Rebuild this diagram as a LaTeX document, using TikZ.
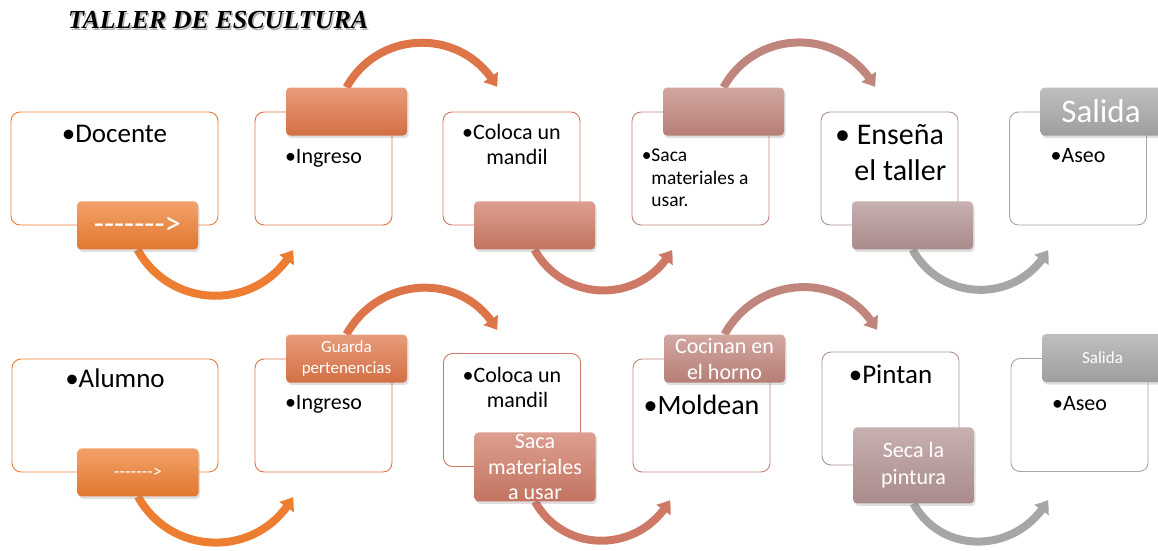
\documentclass[tikz,border=0pt]{standalone}
\usepackage{fontspec}
\setmainfont{Carlito}
\newfontfamily\titlefont{Liberation Serif}
\usepackage{xcolor}
\definecolor{naranja}{RGB}{237,125,49}
\definecolor{cobre}{RGB}{222,117,72}
\definecolor{teja}{RGB}{206,121,101}
\definecolor{rosado}{RGB}{192,133,124}
\definecolor{malva}{RGB}{178,146,146}
\definecolor{gris}{RGB}{166,166,166}
\usepackage{tikz}
\usetikzlibrary{arrows.meta, bending, shadows, backgrounds}
\newcommand{\fs}[2]{\fontsize{#1}{#2}\selectfont}
\newcommand{\guiones}{-{}-{}-{}-{}-{}-{}->}

\begin{document}
\begin{tikzpicture}[x=1pt, y=1pt,
  caja/.style={draw=#1, fill=white, line width=0.9pt, rounded corners=9pt,
    minimum width=137pt, minimum height=113pt, inner sep=0pt},
  ficha/.style={top color=#1!72!white, bottom color=#1!95!black, rounded corners=4pt,
    text=white, minimum width=121pt, minimum height=48pt, inner sep=0pt, align=center,
    drop shadow={opacity=0.25, shadow xshift=1.5pt, shadow yshift=-2.5pt}},
  texto/.style={anchor=base, inner sep=0pt, align=center},
  flecha/.style={draw=#1, line width=8pt, -{Triangle[width=17pt, length=12pt, bend]}}]
 \useasboundingbox (0,0) rectangle (1158,550);
 % titulo
 \node[anchor=base west, inner sep=0pt, text=black!30, font=\titlefont\bfseries\itshape\fs{26}{30}]
   (sombra) at (69.5,519.5) {TALLER DE ESCULTURA};
 \node[anchor=base west, inner sep=0pt, font=\titlefont\bfseries\itshape\fs{26}{30}]
   (titulo) at (68,521) {TALLER DE ESCULTURA};
 % fila docente
 \node[caja=naranja, minimum width=207pt] (docente) at (114.5,381.5) {};
 \node[caja=cobre] (ingreso) at (323.5,381.5) {};
 \node[caja=teja] (mandil) at (511.5,381.5) {};
 \node[caja=rosado] (saca) at (700.5,381.5) {};
 \node[caja=malva] (ensena) at (889.5,381.5) {};
 \node[caja=gris] (aseo) at (1078,381.5) {};
 \node[texto, font=\fs{27}{32}] (ldocente) at ([yshift=-31pt]docente.north) {•Docente};
 \node[texto, font=\fs{22}{25}] (lingreso) at ([yshift=-52pt]ingreso.north) {•Ingreso};
 \node[texto, font=\fs{22}{25}] (lmandil) at ([yshift=-53pt]mandil.north) {•Coloca un\\\phantom{•}mandil};
 \node[anchor=base west, inner sep=0pt, align=left, font=\fs{19.5}{22.5}] (lsaca)
   at ([xshift=10pt, yshift=-95pt]saca.north west) {•Saca\\\phantom{•}materiales a\\\phantom{•}usar.};
 \node[texto, font=\fs{30}{36}] (lensena) at ([yshift=-69pt]ensena.north) {• Enseña\\\phantom{• }el taller};
 \node[texto, font=\fs{22}{25}] (laseo) at ([yshift=-51pt]aseo.north) {•Aseo};
 \node[ficha=naranja, font=\fs{33}{36}] (tdocente) at ([xshift=23pt]docente.south) {\guiones};
 \node[ficha=cobre] (tingreso) at ([xshift=23pt]ingreso.north) {};
 \node[ficha=teja] (tmandil) at ([xshift=23pt]mandil.south) {};
 \node[ficha=rosado] (tsaca) at ([xshift=23pt]saca.north) {};
 \node[ficha=malva] (tensena) at ([xshift=23pt]ensena.south) {};
 \node[ficha=gris, font=\fs{33}{36}] (taseo) at ([xshift=23pt]aseo.north) {Salida};
 % fila alumno
 \node[caja=naranja, minimum width=206pt] (alumno) at (115,134.5) {};
 \node[caja=cobre] (ingresoB) at (323.5,134.5) {};
 \node[caja=teja] (mandilB) at (512,140) {};
 \node[caja=rosado] (moldean) at (701.5,134.5) {};
 \node[caja=malva] (pintan) at (890.5,141.5) {};
 \node[caja=gris] (aseoB) at (1079.5,135) {};
 \node[texto, font=\fs{27}{32}] (lalumno) at ([yshift=-29pt]alumno.north) {•Alumno};
 \node[texto, font=\fs{22}{25}] (lingresoB) at ([yshift=-51pt]ingresoB.north) {•Ingreso};
 \node[texto, font=\fs{22}{25}] (lmandilB) at ([yshift=-54pt]mandilB.north) {•Coloca un\\\phantom{•}mandil};
 \node[texto, font=\fs{28}{32}] (lmoldean) at ([yshift=-56pt]moldean.north) {•Moldean};
 \node[texto, font=\fs{27}{32}] (lpintan) at ([yshift=-32pt]pintan.north) {•Pintan};
 \node[texto, font=\fs{22}{25}] (laseoB) at ([yshift=-52pt]aseoB.north) {•Aseo};
 \node[ficha=naranja, font=\fs{18}{21}] (talumno) at ([xshift=23pt]alumno.south) {\guiones};
 \node[ficha=cobre, font=\fs{17}{21}] (tingresoB) at ([xshift=23pt]ingresoB.north) {Guarda\\pertenencias};
 \node[ficha=teja, minimum height=69pt, font=\fs{22}{25.5}] (tmandilB) at ([xshift=23pt]mandilB.south) {Saca\\materiales\\a usar};
 \node[ficha=rosado, font=\fs{22}{26}] (tmoldean) at ([xshift=23pt]moldean.north) {Cocinan en\\el horno};
 \node[ficha=malva, minimum height=76pt, font=\fs{22}{27}] (tpintan) at ([xshift=23pt]pintan.south) {Seca la\\pintura};
 \node[ficha=gris, font=\fs{17}{20}] (taseoB) at ([xshift=23pt]aseoB.north) {Salida};
 % puntas de las flechas
 \coordinate (p1) at (293,300); \coordinate (p2) at (497,463); \coordinate (p3) at (672,300);
 \coordinate (p4) at (875,463); \coordinate (p5) at (1048,300);
 \coordinate (q1) at (293,53); \coordinate (q2) at (497,220); \coordinate (q3) at (670,50);
 \coordinate (q4) at (877,220); \coordinate (q5) at (1048,50);
 \begin{scope}[on background layer]
 \foreach \s/\t/\c/\o/\i in {tdocente.south/p1/naranja/-61/241, tingreso.north/p2/cobre/61/119,
     tmandil.south/p3/teja/-61/241, tsaca.north/p4/rosado/61/119, tensena.south/p5/gris/-61/241,
     talumno.south/q1/naranja/-61/241, tingresoB.north/q2/cobre/61/119,
     tmandilB.south/q3/teja/-61/241, tmoldean.north/q4/rosado/61/119, tpintan.south/q5/gris/-61/241}
   \draw[flecha=\c] (\s) to[out=\o, in=\i, looseness=1.15] (\t);
 \end{scope}
\end{tikzpicture}
\end{document}
